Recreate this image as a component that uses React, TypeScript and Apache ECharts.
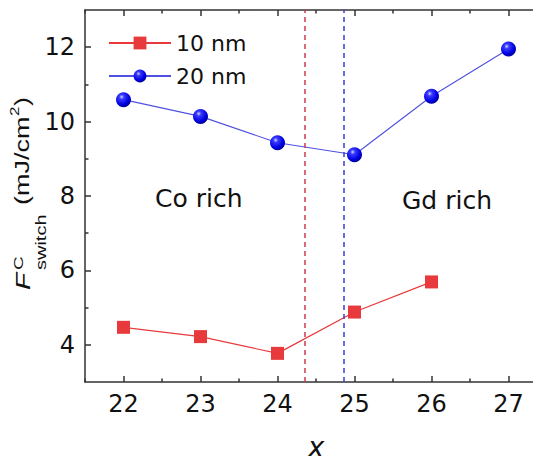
import React, { useEffect, useRef } from 'react';
import * as echarts from 'echarts';

// ---- data ----
const xValues = [22, 23, 24, 25, 26, 27];
const values10nm = [4.47, 4.22, 3.77, 4.88, 5.69];
const values20nm = [10.59, 10.14, 9.43, 9.11, 10.68, 11.95];
const legendNames = ['10 nm', '20 nm'];
const xMajorTicks = [22, 23, 24, 25, 26, 27];
const xMinorTicks = [21.5, 22.5, 23.5, 24.5, 25.5, 26.5];
const yMajorTicks = [4, 6, 8, 10, 12];
const yMinorTicks = [5, 7, 9, 11];
const boundary10nm = 24.36;
const boundary20nm = 24.86;
const regionLabels = ['Co rich', 'Gd rich'];

const FONT = 'DejaVu Sans';
const AXIS_COLOR = '#333';
const TEXT_COLOR = '#111';
const RED = '#e8393c';
const BLUE_LINE = '#5050e0';

export default function App() {
  const ref = useRef<HTMLDivElement>(null);

  useEffect(() => {
    if (!ref.current) return;
    const chart = echarts.init(ref.current, undefined, { renderer: 'svg' });

    const tickLine = { color: AXIS_COLOR, width: 1.5 };
    const xBase = {
      type: 'value' as const,
      min: 21.5,
      max: 27.5,
      interval: 0.5,
      gridIndex: 0,
      splitLine: { show: false },
    };
    const yBase = {
      type: 'value' as const,
      min: 3,
      max: 13,
      interval: 1,
      gridIndex: 0,
      splitLine: { show: false },
    };

    const sphere = new echarts.graphic.RadialGradient(0.38, 0.32, 0.72, [
      { offset: 0, color: '#d0d8ff' },
      { offset: 0.22, color: '#3a3aff' },
      { offset: 0.7, color: '#0000e0' },
      { offset: 1, color: '#000090' },
    ]);

    const pairs10 = values10nm.map((v, i) => [xValues[i], v]);
    const pairs20 = values20nm.map((v, i) => [xValues[i], v]);

    const titleFont = (size: number, italic = false) =>
      `${italic ? 'italic ' : ''}${size}px "Liberation Sans"`;

    chart.setOption({
      animation: false,
      backgroundColor: '#fff',
      grid: {
        left: 85,
        top: 10,
        width: 462,
        height: 372,
        containLabel: false,
        outerBoundsMode: 'none',
      },
      legend: {
        orient: 'vertical',
        left: 103,
        top: 27,
        itemWidth: 62,
        itemHeight: 16,
        itemGap: 11,
        textStyle: { fontFamily: FONT, fontSize: 22, color: TEXT_COLOR },
        data: legendNames,
      },
      xAxis: [
        {
          ...xBase,
          position: 'bottom',
          axisLine: { show: true, onZero: false, lineStyle: tickLine },
          axisTick: { show: true, inside: true, length: 6, customValues: xMajorTicks, lineStyle: tickLine },
          axisLabel: {
            show: true,
            customValues: xMajorTicks,
            fontFamily: FONT,
            fontSize: 24,
            color: TEXT_COLOR,
            margin: 10,
          },
          name: 'x',
          nameLocation: 'middle',
          nameGap: 51,
          nameTextStyle: { fontFamily: FONT, fontSize: 28, fontStyle: 'italic', color: TEXT_COLOR },
        },
        {
          ...xBase,
          position: 'bottom',
          axisLine: { show: false },
          axisTick: { show: true, inside: true, length: 3.5, customValues: xMinorTicks, lineStyle: tickLine },
          axisLabel: { show: false },
        },
        {
          ...xBase,
          position: 'top',
          axisLine: { show: true, onZero: false, lineStyle: tickLine },
          axisTick: { show: true, inside: true, length: 6, customValues: xMajorTicks, lineStyle: tickLine },
          axisLabel: { show: false },
        },
        {
          ...xBase,
          position: 'top',
          axisLine: { show: false },
          axisTick: { show: true, inside: true, length: 3.5, customValues: xMinorTicks, lineStyle: tickLine },
          axisLabel: { show: false },
        },
      ],
      yAxis: [
        {
          ...yBase,
          position: 'left',
          axisLine: { show: true, onZero: false, lineStyle: tickLine },
          axisTick: { show: true, inside: true, length: 6, customValues: yMajorTicks, lineStyle: tickLine },
          axisLabel: {
            show: true,
            customValues: yMajorTicks,
            fontFamily: FONT,
            fontSize: 24,
            color: TEXT_COLOR,
            margin: 10,
          },
        },
        {
          ...yBase,
          position: 'left',
          axisLine: { show: false },
          axisTick: { show: true, inside: true, length: 3.5, customValues: yMinorTicks, lineStyle: tickLine },
          axisLabel: { show: false },
        },
        {
          ...yBase,
          position: 'right',
          axisLine: { show: true, onZero: false, lineStyle: tickLine },
          axisTick: { show: true, inside: true, length: 10, customValues: yMajorTicks, lineStyle: { color: '#888', width: 1.2 } },
          axisLabel: { show: false },
        },
        {
          ...yBase,
          position: 'right',
          axisLine: { show: false },
          axisTick: { show: true, inside: true, length: 8, customValues: yMinorTicks, lineStyle: { color: '#aaa', width: 1.2 } },
          axisLabel: { show: false },
        },
      ],
      series: [
        {
          name: legendNames[0],
          type: 'line',
          xAxisIndex: 0,
          yAxisIndex: 0,
          data: pairs10,
          symbol: 'rect',
          symbolSize: 13,
          itemStyle: { color: RED },
          lineStyle: { color: RED, width: 1.2 },
          z: 3,
          markLine: {
            silent: true,
            symbol: ['none', 'none'],
            label: { show: false },
            data: [
              { xAxis: boundary10nm, lineStyle: { color: '#cc3a4e', type: [5, 4], width: 1.5 } },
              { xAxis: boundary20nm, lineStyle: { color: '#3c3cd6', type: [5, 4], width: 1.5 } },
            ],
          },
        },
        {
          name: legendNames[1],
          type: 'line',
          xAxisIndex: 0,
          yAxisIndex: 0,
          data: pairs20,
          symbol: 'circle',
          symbolSize: 15,
          itemStyle: { color: sphere },
          lineStyle: { color: BLUE_LINE, width: 1.1 },
          z: 3,
        },
      ],
      graphic: [
        {
          type: 'text',
          left: 155,
          top: 186,
          style: { text: regionLabels[0], font: `25px "${FONT}"`, fill: TEXT_COLOR },
        },
        {
          type: 'text',
          left: 402,
          top: 188,
          style: { text: regionLabels[1], font: `25px "${FONT}"`, fill: TEXT_COLOR },
        },
        {
          type: 'group',
          x: 30,
          y: 290,
          rotation: Math.PI / 2,
          scaleY: 0.72,
          children: [
            { type: 'text', x: 0, y: -10, style: { text: 'F', font: titleFont(28, true), fill: TEXT_COLOR, verticalAlign: 'middle', align: 'left' } },
            { type: 'text', x: 20, y: -16, style: { text: 'C', font: titleFont(19), fill: TEXT_COLOR, verticalAlign: 'middle', align: 'left' } },
            { type: 'text', x: 20, y: 15, style: { text: 'switch', font: titleFont(20), fill: TEXT_COLOR, verticalAlign: 'middle', align: 'left' } },
            { type: 'text', x: 85, y: -10, style: { text: '(mJ/cm', font: titleFont(27), fill: TEXT_COLOR, verticalAlign: 'middle', align: 'left' } },
            { type: 'text', x: 174, y: -21, style: { text: '2', font: titleFont(17), fill: TEXT_COLOR, verticalAlign: 'middle', align: 'left' } },
            { type: 'text', x: 184, y: -10, style: { text: ')', font: titleFont(27), fill: TEXT_COLOR, verticalAlign: 'middle', align: 'left' } },
          ],
        },
      ],
    });

    return () => chart.dispose();
  }, []);

  return <div ref={ref} style={{ width: 541, height: 464, margin: -8 }} />;
}
